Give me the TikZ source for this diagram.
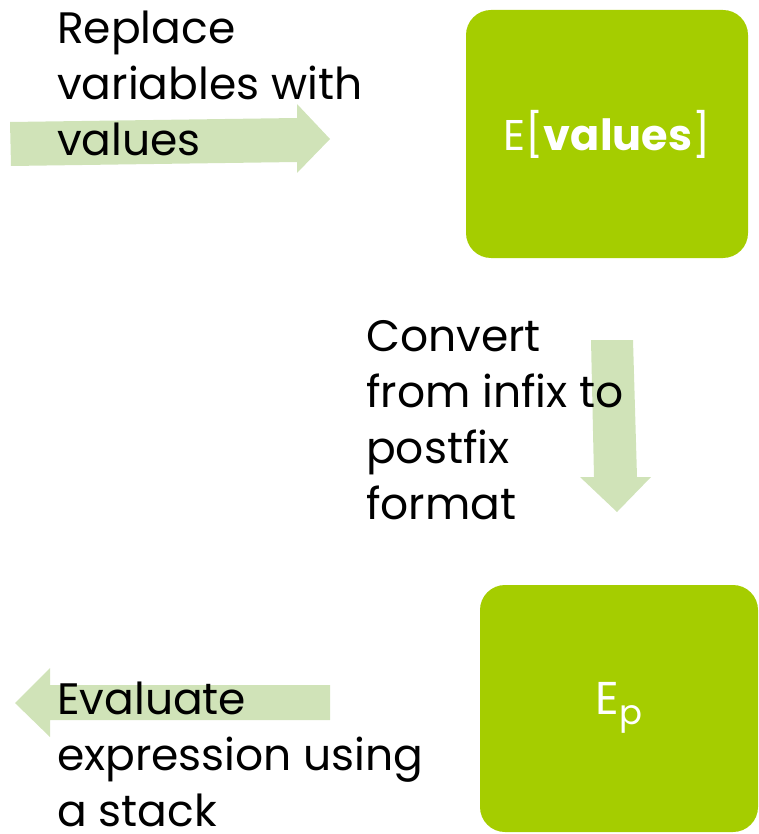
\documentclass[tikz,border=0pt]{standalone}
\usepackage{fontspec}
\setmainfont{Poppins}
\definecolor{boxgreen}{RGB}{165,205,0}
\definecolor{arrowgreen}{RGB}{208,227,184}
\begin{document}
\begin{tikzpicture}[x=1pt,y=-1pt,
  stepbox/.style={fill=boxgreen,rounded corners=25pt},
  arrowshape/.style={fill=arrowgreen,draw=none},
  label/.style={anchor=north west,align=left,inner sep=0pt,font=\fontsize{44}{56}\selectfont},
  boxtext/.style={text=white,font=\fontsize{43}{50}\selectfont}]
\useasboundingbox (0,0) rectangle (759,834);
% arrows
\fill[arrowshape] (10,122) -- (297,118) -- (297,104) -- (330,139) -- (297,173) -- (297,162) -- (11,166) -- cycle;
\fill[arrowshape] (591,340) -- (633,340) -- (637,477) -- (651,477) -- (617,512) -- (580,477) -- (594,477) -- cycle;
\fill[arrowshape] (330,685) -- (50,685) -- (50,668) -- (15,703) -- (50,737) -- (50,720) -- (330,720) -- cycle;
% boxes
\fill[stepbox] (466,10) rectangle (748,258);
\fill[stepbox] (480,585) rectangle (758,832);
\node[boxtext] (b1) at (607,134) {E[\textbf{values}]};
\node[boxtext,font=\fontsize{46}{50}\selectfont] (b2) at (619,708) {E$_{\mbox{\fontsize{34}{34}\selectfont p}}$};
% texts
\node[label] (t1) at (57,11) {Replace\\variables with\\values};
\node[label] (t2) at (366,320) {Convert\\from infix to\\postfix\\format};
\node[label] (t3) at (57,682) {Evaluate\\expression using\\a stack};
\end{tikzpicture}
\end{document}
